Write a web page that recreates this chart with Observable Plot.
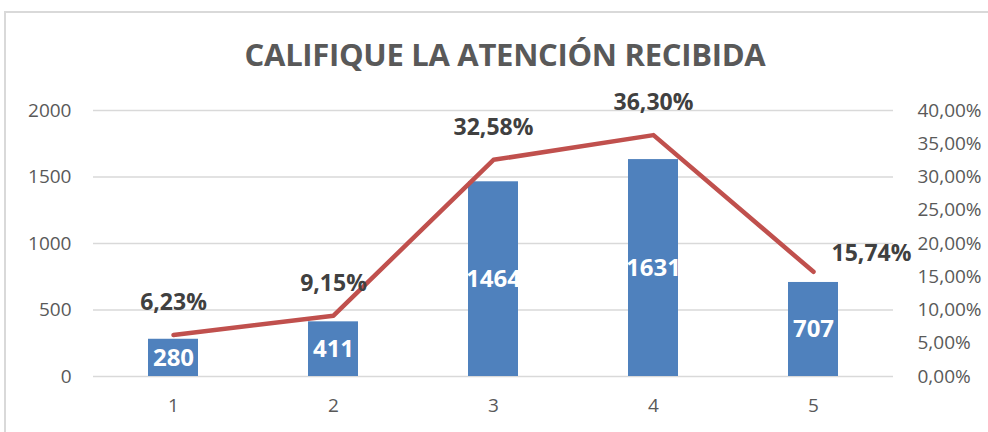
<!DOCTYPE html>
<html>
<head>
<meta charset="utf-8">
<script src="https://cdn.jsdelivr.net/npm/d3@7"></script>
<script src="https://cdn.jsdelivr.net/npm/@observablehq/plot@0.6"></script>
<style>
  html, body { margin: 0; padding: 0; background: #fff; }
  #wrap { position: relative; width: 988px; height: 432px; overflow: hidden; font-family: "Open Sans", sans-serif; }
  #border { position: absolute; left: 4px; top: 11px; width: 1000px; height: 500px; border-left: 2px solid #d9d9d9; border-top: 2px solid #d9d9d9; box-sizing: border-box; }
  #title { position: absolute; left: 0; width: 1010px; top: 34px; text-align: center; font-weight: bold; font-size: 31px; color: #595959; letter-spacing: -0.3px; line-height: 40px; }
  #chart { position: absolute; left: 0; top: 0; }
</style>
</head>
<body>
<div id="wrap">
  <div id="border"></div>
  <div id="title">CALIFIQUE LA ATENCIÓN RECIBIDA</div>
  <div id="chart"></div>
</div>
<script>
const categories = ["1", "2", "3", "4", "5"];
const counts = [280, 411, 1464, 1631, 707];
const percents = [6.23, 9.15, 32.58, 36.30, 15.74];
const percentLabels = ["6,23%", "9,15%", "32,58%", "36,30%", "15,74%"];
const leftTicks = [0, 500, 1000, 1500, 2000];
const leftTickLabels = ["0", "500", "1000", "1500", "2000"];
const rightTicks = [0, 5, 10, 15, 20, 25, 30, 35, 40];
const rightTickLabels = ["0,00%", "5,00%", "10,00%", "15,00%", "20,00%", "25,00%", "30,00%", "35,00%", "40,00%"];

const leftMax = 2000, rightMax = 40;
const toLeft = p => p * leftMax / rightMax;

const data = categories.map((c, i) => ({
  cat: c, count: counts[i], pct: percents[i], pctY: toLeft(percents[i]), label: percentLabels[i], last: i === categories.length - 1
}));

const chart = Plot.plot({
  width: 988,
  height: 432,
  marginLeft: 93,
  marginRight: 95,
  marginTop: 110,
  marginBottom: 56,
  style: { fontFamily: "'Open Sans', sans-serif", background: "transparent", overflow: "visible" },
  x: { type: "band", domain: categories, paddingInner: 0.6875, paddingOuter: 0.34375, label: null },
  y: { domain: [0, leftMax], label: null },
  marks: [
    Plot.ruleY(leftTicks, { stroke: "#d9d9d9", strokeWidth: 1.5 }),
    Plot.barY(data, { x: "cat", y: "count", fill: "#4F81BD" }),
    Plot.text(data, { x: "cat", y: d => d.count / 2, text: d => String(d.count), fill: "#fff", fontWeight: "bold", fontSize: 24 }),
    Plot.line(data, { x: "cat", y: "pctY", stroke: "#C0504D", strokeWidth: 4.5, strokeLinejoin: "round", strokeLinecap: "round" }),
    Plot.text(data.filter(d => !d.last), { x: "cat", y: "pctY", text: "label", dy: -32, fill: "#404040", fontWeight: "bold", fontSize: 23 }),
    Plot.text(data.filter(d => d.last), { x: "cat", y: "pctY", text: "label", dx: 58, dy: -18, fill: "#404040", fontWeight: "bold", fontSize: 23 }),
    Plot.axisY(leftTicks, { anchor: "left", tickSize: 0, tickPadding: 22, fontSize: 19, color: "#595959", label: null,
      tickFormat: v => leftTickLabels[leftTicks.indexOf(v)] }),
    Plot.axisY(rightTicks.map(toLeft), { anchor: "right", tickSize: 0, tickPadding: 24, fontSize: 19, color: "#595959", label: null,
      tickFormat: v => rightTickLabels[rightTicks.indexOf(v * rightMax / leftMax)] }),
    Plot.axisX({ tickSize: 0, tickPadding: 22, fontSize: 19, color: "#595959", label: null })
  ]
});
document.getElementById("chart").appendChild(chart);
</script>
</body>
</html>
